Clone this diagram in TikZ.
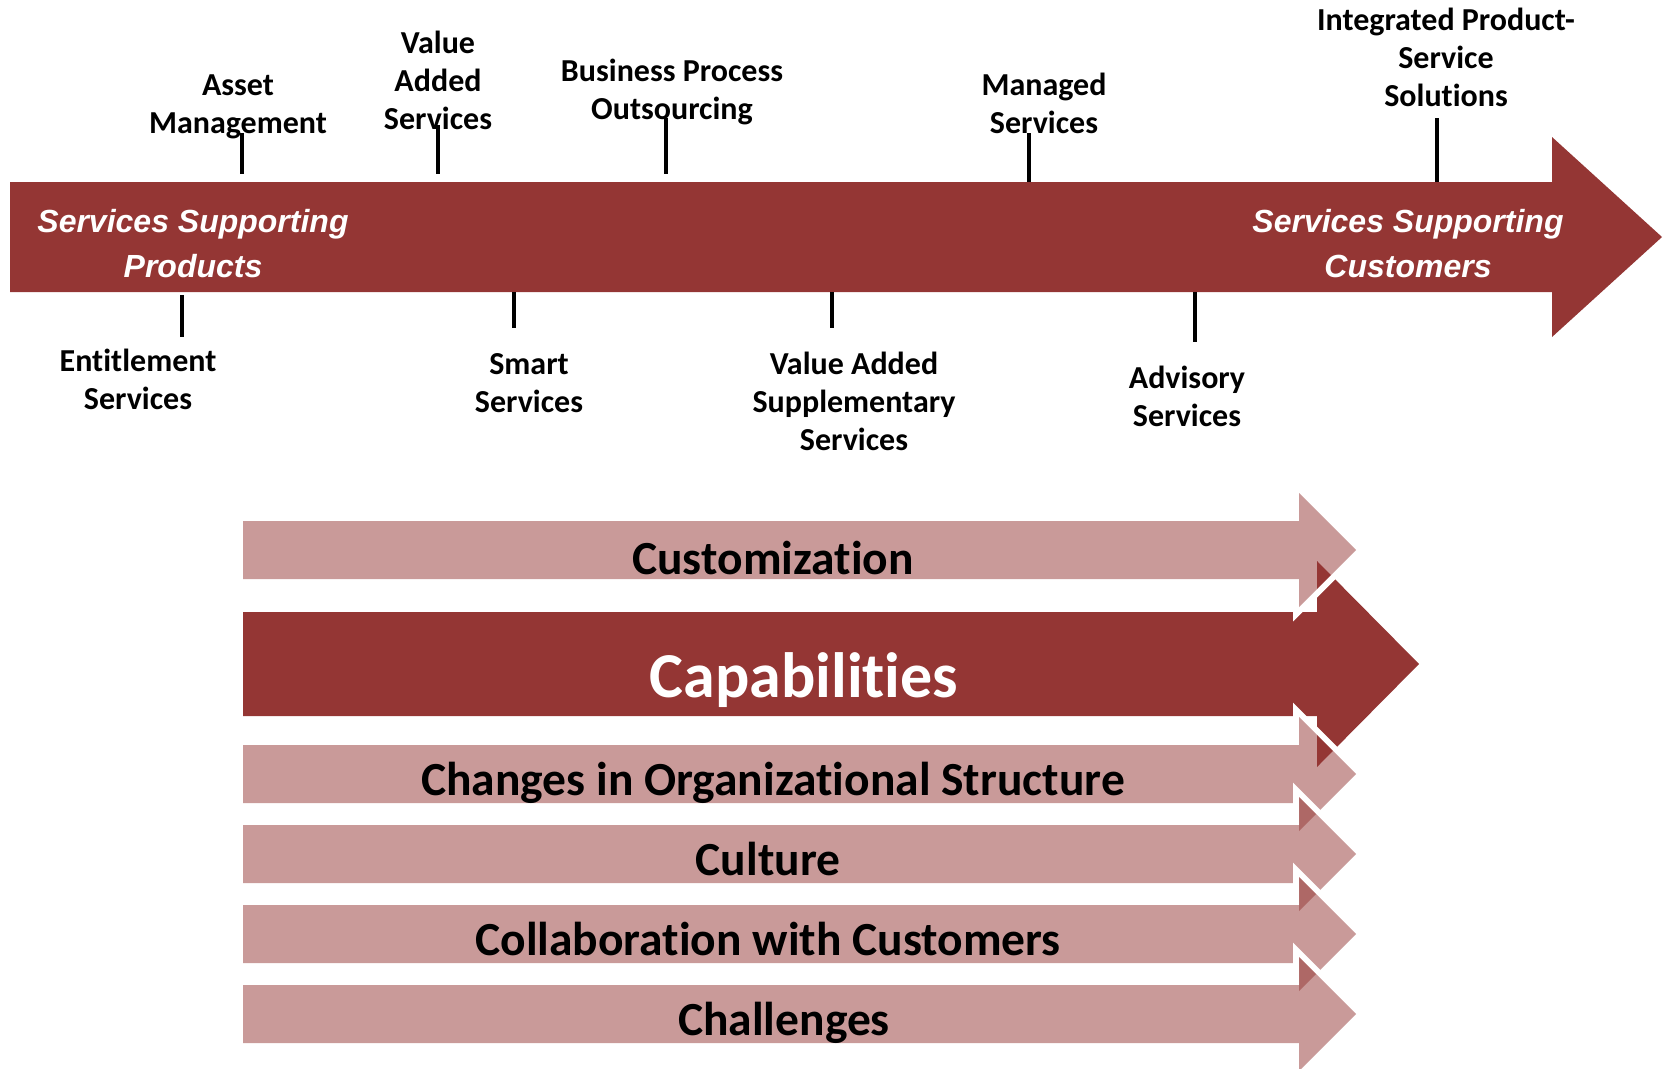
\documentclass[tikz,border=0pt]{standalone}
\usepackage{fontspec}
\setmainfont{Carlito}[Ligatures=NoCommon]
\newfontfamily\arialfont{Liberation Sans}
\definecolor{darkred}{HTML}{943634}
\tikzset{
 tickline/.style={line width=4pt, black},
 toplab/.style={font=\fontsize{32}{38}\selectfont\bfseries, align=center, anchor=base, inner sep=0pt},
 mainlab/.style={font=\arialfont\fontsize{32}{45}\selectfont\bfseries\itshape, text=white, align=center, anchor=south, inner sep=0pt},
 pinklab/.style={font=\fontsize{47.5}{55}\selectfont\bfseries, anchor=base, inner sep=0pt},
 caplab/.style={font=\fontsize{64}{75}\selectfont\bfseries, text=white, anchor=base, inner sep=0pt},
 band/.style={draw=white, line width=12pt, miter limit=10},
 pinkfill/.style={fill=darkred, fill opacity=0.5},
 mainfill/.style={fill=darkred},
}
\begin{document}
\begin{tikzpicture}[x=1pt,y=-1pt]
\useasboundingbox (0,0) rectangle (1669,1068);
% main arrow
\fill[mainfill] (10,182) -- (1552,182) -- (1552,137) -- (1662,237) -- (1552,337) -- (1552,292) -- (10,292) -- cycle;
\node[mainlab] (mleft) at (193,278) {Services Supporting\\Products};
\node[mainlab] (mright) at (1408,278) {Services Supporting\\Customers};
% tick coordinates
\coordinate (a1) at (241.6,133); \coordinate (a2) at (241.6,174);
\coordinate (v1) at (438,125);   \coordinate (v2) at (438,174);
\coordinate (b1) at (666,118);   \coordinate (b2) at (666,174);
\coordinate (m1) at (1029,133);  \coordinate (m2) at (1029,182);
\coordinate (i1) at (1437,118);  \coordinate (i2) at (1437,182);
\coordinate (e1) at (181.6,295); \coordinate (e2) at (181.6,337);
\coordinate (s1) at (514,292);   \coordinate (s2) at (514,328);
\coordinate (p1) at (832,292);   \coordinate (p2) at (832,328);
\coordinate (d1) at (1195,292);  \coordinate (d2) at (1195,342);
\foreach \u/\w in {a1/a2,v1/v2,b1/b2,m1/m2,i1/i2,e1/e2,s1/s2,p1/p2,d1/d2}
  \draw[tickline] (\u) -- (\w);
% labels (anchor = baseline of last line)
\node[toplab] (lAsset) at (238,133) {Asset\\Management};
\node[toplab] (lVAS) at (438,129) {Value\\Added\\Services};
\node[toplab] (lBPO) at (672,119) {Business Process\\Outsourcing};
\node[toplab] (lMan) at (1044,133) {Managed\\Services};
\node[toplab] (lIPS) at (1446,106) {Integrated Product-\\Service\\Solutions};
\node[toplab] (lEnt) at (138,409) {Entitlement\\Services};
\node[toplab] (lSmart) at (529,412) {Smart\\Services};
\node[toplab] (lVASS) at (854,450) {Value Added\\Supplementary\\Services};
\node[toplab] (lAdv) at (1187,426) {Advisory\\Services};
% capabilities arrow
\fill[mainfill] (243,612) -- (1317,612) -- (1317,561) -- (1419,664) -- (1317,767) -- (1317,716) -- (243,716) -- cycle;
% pink arrows
\foreach \c in {550,774,854,934,1014} {
  \begin{scope}
    \clip (243,\c-29) -- (1299,\c-29) -- (1299,\c-57) -- (1356,\c) -- (1299,\c+57) -- (1299,\c+29) -- (243,\c+29) -- cycle
          (-20,-20) -- (-20,1100) -- (1700,1100) -- (1700,-20) -- cycle;
    \draw[band] (243,\c-29) -- (1299,\c-29) -- (1299,\c-57) -- (1356,\c) -- (1299,\c+57) -- (1299,\c+29) -- (243,\c+29) -- cycle;
  \end{scope}
  \fill[pinkfill] (243,\c-29) -- (1299,\c-29) -- (1299,\c-57) -- (1356,\c) -- (1299,\c+57) -- (1299,\c+29) -- (243,\c+29) -- cycle;
}
\node[pinklab] (tCust) at (773,574) {Customization};
\node[caplab] (tCap) at (804,697) {Capabilities};
\node[pinklab] (tChg) at (773,795) {Changes in Organizational Structure};
\node[pinklab] (tCult) at (768,875) {Culture};
\node[pinklab] (tColl) at (768,955) {Collaboration with Customers};
\node[pinklab] (tChal) at (784,1035) {Challenges};
\end{tikzpicture}
\end{document}
